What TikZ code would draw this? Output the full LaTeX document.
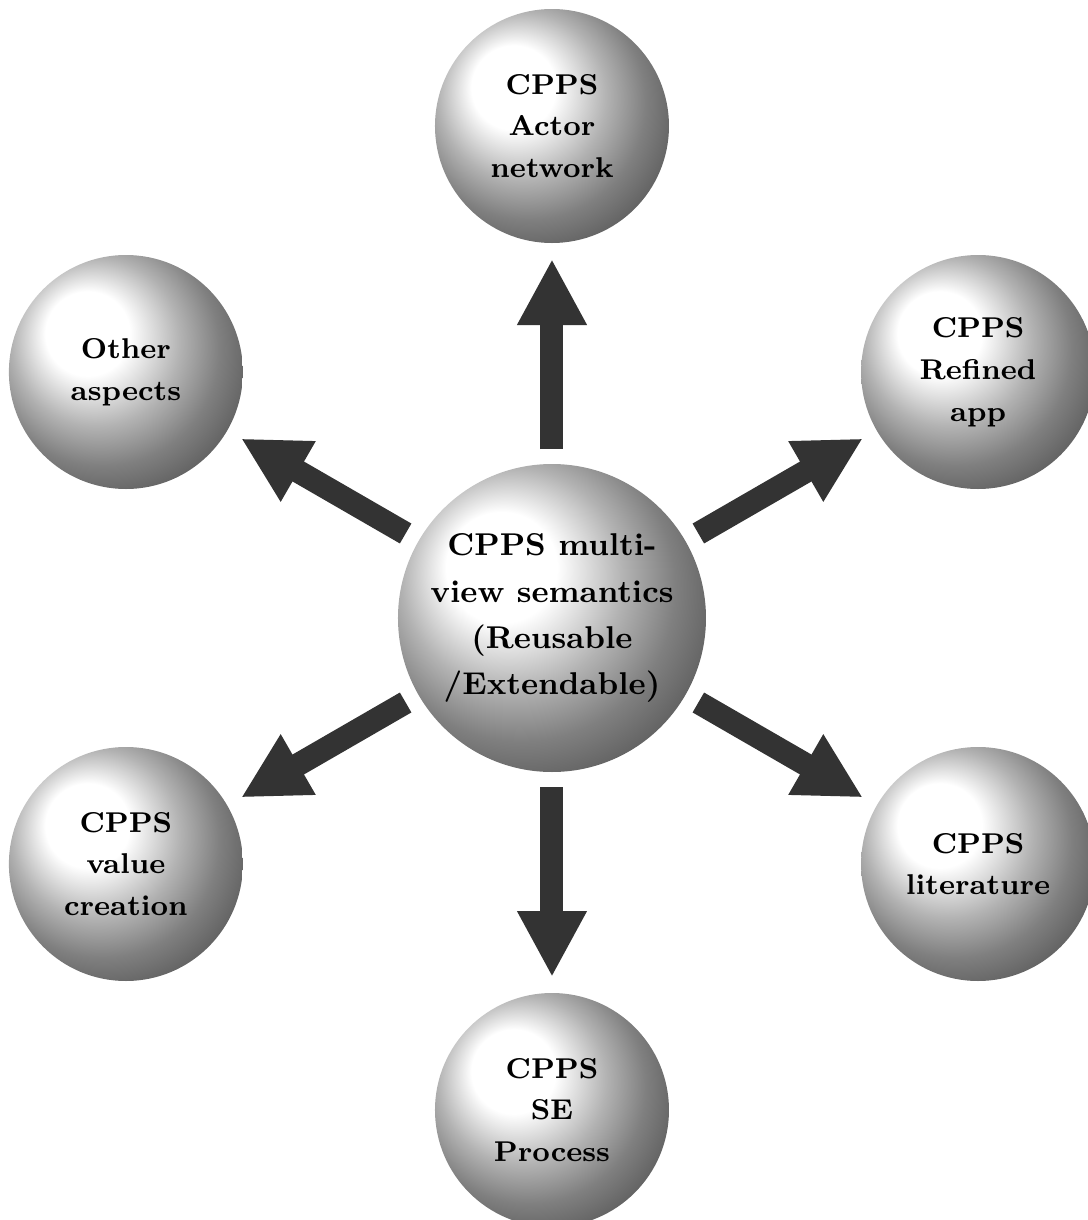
\documentclass[tikz,border=0pt]{standalone}
\usepackage{tikz}
\usetikzlibrary{arrows.meta}

\tikzset{
  sphere/.style={circle, ball color=white, inner sep=0pt, outer sep=0pt, align=center},
  hub/.style={sphere, minimum size=3.08cm, font=\fontsize{8.96}{13.1}\selectfont\bfseries},
  leaf/.style={sphere, minimum size=2.34cm, font=\fontsize{8.14}{11.9}\selectfont\bfseries},
  fatarrow/.style={-{Triangle[length=0.66cm,width=0.65cm]}, line width=0.23cm, black!80,
    shorten <=0.15cm, shorten >=0.16cm}
}

\begin{document}
\begin{tikzpicture}
    \useasboundingbox (-5.52,-6.02) rectangle (5.35,6.18);

    \node[hub] (core) at (0,0) {CPPS multi-\\view semantics\\(Reusable\\/Extendable)};

    \node[leaf] (actor)  at (90:4.92)  {CPPS\\Actor\\network};
    \node[leaf] (app)    at (30:4.92)  {CPPS\\Refined\\app};
    \node[leaf] (other)  at (150:4.92) {Other\\aspects};
    \node[leaf] (value)  at (210:4.92) {CPPS\\value\\creation};
    \node[leaf] (lit)    at (330:4.92) {CPPS\\literature};
    \node[leaf] (se)     at (270:4.92) {CPPS\\SE\\Process};

    \draw[fatarrow] (core) -- (actor);
    \draw[fatarrow] (core) -- (app);
    \draw[fatarrow] (core) -- (other);
    \draw[fatarrow] (core) -- (value);
    \draw[fatarrow] (core) -- (lit);
    \draw[fatarrow] (core) -- (se);
\end{tikzpicture}
\end{document}
